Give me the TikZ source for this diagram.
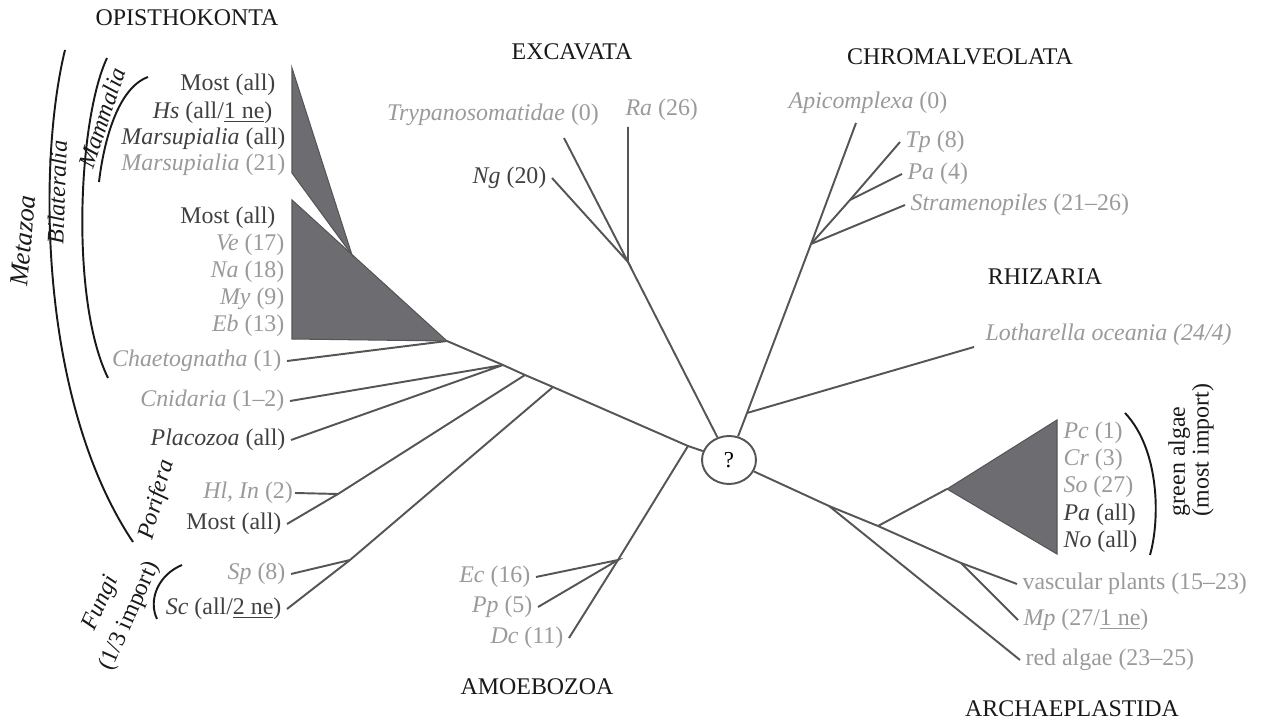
\documentclass[tikz,border=0pt]{standalone}
\usepackage{fontspec}
\setmainfont{Liberation Serif}
\usetikzlibrary{shapes.geometric}
\definecolor{branchgray}{HTML}{555555}
\definecolor{cladefill}{HTML}{6D6D71}
\definecolor{darktxt}{HTML}{404040}
\definecolor{lighttxt}{HTML}{9A9A9A}

\begin{document}
\begin{tikzpicture}[x=0.02cm, y=-0.02cm,
		lab/.style={font=\fontsize{13.6}{16}\selectfont, inner sep=3pt},
		dk/.style={lab, text=darktxt},
		lt/.style={lab, text=lighttxt},
		group/.style={lab, text=black!90},
		branch/.style={draw=branchgray, line width=1.1pt},
		clade/.style={fill=cladefill, draw=branchgray, line width=0.6pt},
		bracket/.style={draw=black!90, line width=1.1pt}]
	\useasboundingbox (0,0) rectangle (1269,722);
	
	\path (187,18) node[group] (opi){OPISTHOKONTA}
	(572,52) node[group] (exc){EXCAVATA}
	(960,57) node[group] (chr){CHROMALVEOLATA}
	(1045,277) node[group] (rhi){RHIZARIA}
	(537,687) node[group] (amo){AMOEBOZOA}
	(1072,709) node[group, inner sep=1pt] (arc){ARCHAEPLASTIDA};
	
	\path (729,460) node[branch, ellipse, minimum width=1.08cm, minimum height=0.96cm, inner sep=0pt, font=\fontsize{13}{15}\selectfont] (root){?};
	
	\path (447,341) coordinate (op)
	(503,365) coordinate (op1)
	(525,375) coordinate (op2)
	(553,387) coordinate (op3)
	(688,446) coordinate (am)
	(338,494) coordinate (por)
	(350,560) coordinate (fun)
	(618,560) coordinate (am1)
	(628,262) coordinate (ex)
	(564,138) coordinate (try-tip)
	(628,127) coordinate (ra-tip)
	(747,413) coordinate (rh)
	(811,244) coordinate (ch)
	(850,200) coordinate (ch1)
	(856,123) coordinate (api-tip)
	(974,347) coordinate (lot-tip)
	(829,506) coordinate (ar)
	(878,526) coordinate (ga)
	(961,563) coordinate (vp)
	(947,489) coordinate (ga-tip);
	
	\path (281,85) node[dk, anchor=east] (mo1){Most (all)}
	(278,113) node[dk, anchor=east] (hs){\textit{Hs} (all/\underline{1 ne})}
	(291,139) node[dk, anchor=east] (msa){\textit{Marsupialia} (all)}
	(291,165) node[lt, anchor=east] (msb){\textit{Marsupialia} (21)}
	(281,218) node[dk, anchor=east] (mo2){Most (all)}
	(290,245) node[lt, anchor=east] (ve){\textit{Ve} (17)}
	(290,272) node[lt, anchor=east] (na){\textit{Na} (18)}
	(290,299) node[lt, anchor=east] (my){\textit{My} (9)}
	(290,326) node[lt, anchor=east] (eb){\textit{Eb} (13)}
	(287,361) node[lt, anchor=east] (cha){\textit{Chaetognatha} (1)}
	(290,401) node[lt, anchor=east] (cni){\textit{Cnidaria} (1--2)}
	(291,440) node[dk, anchor=east] (pla){\textit{Placozoa} (all)}
	(295,493) node[lt, anchor=east, inner xsep=1pt] (hl){\textit{Hl, In} (2)}
	(287,524) node[dk, anchor=east] (mo3){Most (all)}
	(291,574) node[lt, anchor=east] (sp){\textit{Sp} (8)}
	(287,609) node[dk, anchor=east] (sc){\textit{Sc} (all/\underline{2 ne})}
	(536,577) node[lt, anchor=east] (ec){\textit{Ec} (16)}
	(538,607) node[lt, anchor=east] (pp){\textit{Pp} (5)}
	(569,638) node[lt, anchor=east] (dc){\textit{Dc} (11)}
	(552,178) node[dk, anchor=east] (ng){\textit{Ng} (20)}
	(493,115) node[lt] (try){\textit{Trypanosomatidae} (0)}
	(620,110) node[lt, anchor=west] (ra){\textit{Ra} (26)}
	(868,103) node[lt] (api){\textit{Apicomplexa} (0)}
	(900,142) node[lt, anchor=west] (tp){\textit{Tp} (8)}
	(902,174) node[lt, anchor=west] (pa4){\textit{Pa} (4)}
	(905,205) node[lt, anchor=west] (str){\textit{Stramenopiles} (21--26)}
	(980,335) node[lt, anchor=west] (lot){\textit{Lotharella oceania (24/4)}}
	(1058,433) node[lt, anchor=west] (pc){\textit{Pc} (1)}
	(1058,460) node[lt, anchor=west] (cr){\textit{Cr} (3)}
	(1058,487) node[lt, anchor=west] (so){\textit{So} (27)}
	(1058,515) node[dk, anchor=west] (paa){\textit{Pa} (all)}
	(1058,542) node[dk, anchor=west] (no){\textit{No} (all)}
	(1017,584) node[lt, anchor=west] (vas){vascular plants (15--23)}
	(1018,620) node[lt, anchor=west] (mp){\textit{Mp} (27/\underline{1 ne})}
	(1020,660) node[lt, anchor=west] (red){red algae (23--25)};
	
	\draw[branch] (op) -- (op1) -- (op2) -- (op3) -- (am) -- (root);
	\draw[branch] (op) -- (cha.east);
	\draw[branch] (cni.east) -- (op1) -- (pla.east);
	\draw[branch] (op2) -- (por) -- (mo3.east);
	\draw[branch] (por) -- (hl.east);
	\draw[branch] (op3) -- (fun) -- (sc.east);
	\draw[branch] (fun) -- (sp.east);
	\draw[branch] (am) -- (am1) -- (dc.east);
	\draw[branch] (ec.east) -- (am1) -- (pp.east);
	\draw[branch] (root) -- (ex) -- (ra-tip);
	\draw[branch] (try-tip) -- (ex) -- (ng.east);
	\draw[branch] (root) -- (rh) -- (ch) -- (api-tip);
	\draw[branch] (rh) -- (lot-tip);
	\draw[branch] (ch) -- (ch1) -- (tp.west);
	\draw[branch] (ch1) -- (pa4.west);
	\draw[branch] (ch) -- (str.west);
	\draw[branch] (root) -- (ar) -- (ga) -- (vp) -- (vas.west);
	\draw[branch] (vp) -- (mp.west);
	\draw[branch] (ar) -- (red.west);
	\draw[branch] (ga) -- (ga-tip);
	
	\path[clade] (292,200) -- (292,339) -- (op) -- cycle;
	\path[clade] (292,68) -- (292,173) -- (352,255) -- cycle;
	\path[clade] (ga-tip) -- (1057,420) -- (1057,554) -- cycle;
	
	\path (23,241) node[group, rotate=85, font=\fontsize{15}{17}\selectfont] (metazoa){\textit{Metazoa}}
	(57,192) node[group, rotate=88] (bila){\textit{Bilateralia}}
	(102,118) node[group, rotate=72] (mamm){\textit{Mammalia}}
	(157,500) node[group, rotate=75] (pori){\textit{Porifera}}
	(116,610) node[group, rotate=66, align=center, font=\fontsize{13.6}{18}\selectfont] (fungi){\textit{Fungi}\\(1/3 import)}
	(1191,450) node[group, rotate=90, align=left, font=\fontsize{13.6}{13.5}\selectfont] (green){green algae\\(most import)};
	
	\draw[bracket] (65,50) .. controls (38,160) and (38,400) .. (133,542);
	\draw[bracket] (107,58) .. controls (78,120) and (70,300) .. (108,378);
	\draw[bracket] (148,77) .. controls (118,88) and (104,140) .. (99,182);
	\draw[bracket] (182,565) .. controls (158,575) and (148,600) .. (157,619);
	\draw[bracket] (1125,413) .. controls (1160,450) and (1160,520) .. (1150,555);
\end{tikzpicture}
\end{document}
